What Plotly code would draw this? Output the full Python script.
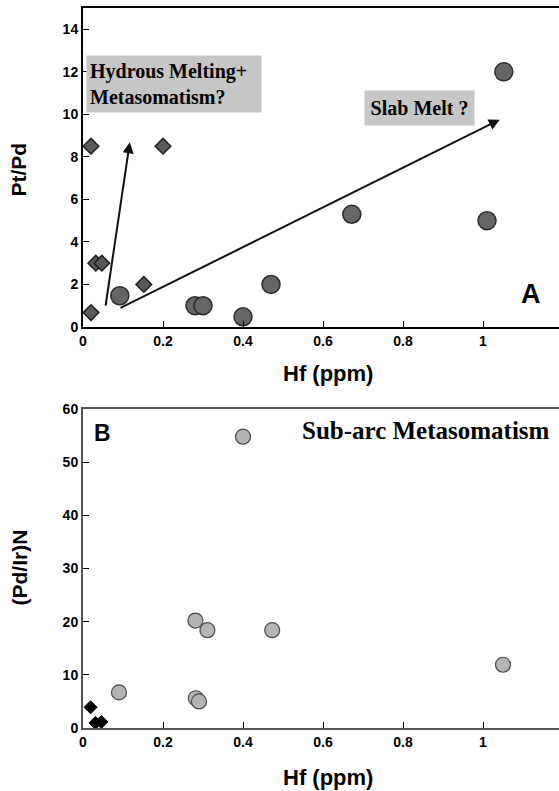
import plotly.graph_objects as go
from plotly.subplots import make_subplots

# ---- Data ----
# Panel A: Pt/Pd vs Hf
a_dia_hf = [0.02, 0.20, 0.02, 0.032, 0.047, 0.152]
a_dia_ptpd = [8.5, 8.5, 0.68, 3.0, 3.0, 2.0]
a_cir_hf = [0.092, 0.28, 0.30, 0.40, 0.47, 0.672, 1.01, 1.052]
a_cir_ptpd = [1.47, 1.0, 1.0, 0.48, 2.0, 5.3, 5.0, 12.0]

# Panel B: (Pd/Ir)N vs Hf
b_cir_hf = [0.40, 0.281, 0.311, 0.473, 0.09, 0.282, 0.29, 1.05]
b_cir_pdir = [54.8, 20.2, 18.4, 18.4, 6.7, 5.6, 5.0, 11.9]
b_dia_hf = [0.019, 0.031, 0.046]
b_dia_pdir = [3.9, 0.95, 1.15]

x_ticks = [0, 0.2, 0.4, 0.6, 0.8, 1]
x_tick_labels = ["0", "0.2", "0.4", "0.6", "0.8", "1"]
ya_ticks = [0, 2, 4, 6, 8, 10, 12, 14]
yb_ticks = [0, 10, 20, 30, 40, 50, 60]

W, H = 559, 791
L, R, T, B = 83, 0, 8, 63
plot_w = W - L - R
plot_h = H - T - B


def px_x(px):
    return (px - L) / plot_w


def px_y(py):
    return (H - B - py) / plot_h


fig = make_subplots(rows=2, cols=1, vertical_spacing=0.114)

fig.add_trace(go.Scatter(x=a_dia_hf, y=a_dia_ptpd, mode="markers",
                         marker=dict(symbol="diamond", size=12, color="#5a5a5a",
                                     line=dict(color="#1e1e1e", width=1.5)),
                         showlegend=False, cliponaxis=False), row=1, col=1)
fig.add_trace(go.Scatter(x=a_cir_hf, y=a_cir_ptpd, mode="markers",
                         marker=dict(symbol="circle", size=18, color="#666666",
                                     line=dict(color="#2a2a2a", width=1.5)),
                         showlegend=False, cliponaxis=False), row=1, col=1)
fig.add_trace(go.Scatter(x=b_cir_hf, y=b_cir_pdir, mode="markers",
                         marker=dict(symbol="circle", size=15, color="#b4b4b4",
                                     line=dict(color="#4a4a4a", width=1.2)),
                         showlegend=False, cliponaxis=False), row=2, col=1)
fig.add_trace(go.Scatter(x=b_dia_hf, y=b_dia_pdir, mode="markers",
                         marker=dict(symbol="diamond", size=10, color="#000000",
                                     line=dict(color="#000000", width=1)),
                         showlegend=False, cliponaxis=False), row=2, col=1)

tickfont = dict(family="Liberation Sans, Arial", size=14, color="#000", weight="bold")
titlefont = dict(family="Liberation Sans, Arial", size=22, color="#000", weight="bold")

common_x = dict(range=[0, 1.19], tickmode="array", tickvals=x_ticks, ticktext=x_tick_labels,
                ticks="inside", ticklen=6, tickwidth=1, tickcolor="#000",
                showgrid=False, zeroline=False, showline=True, linecolor="#000",
                linewidth=2, mirror=True, tickfont=tickfont, automargin=False)
fig.update_xaxes(**common_x, row=1, col=1)
fig.update_xaxes(**common_x, row=2, col=1)

common_y = dict(ticks="inside", ticklen=6, tickwidth=1, tickcolor="#000",
                showgrid=False, zeroline=False, showline=True,
                linewidth=2, tickfont=tickfont, automargin=False, tickmode="array")
fig.update_yaxes(range=[0, 15], tickvals=ya_ticks, linecolor="#000", **common_y, row=1, col=1)
fig.update_yaxes(range=[0, 60], tickvals=yb_ticks, linecolor="#555", **common_y, row=2, col=1)

fig.update_layout(yaxis=dict(domain=[px_y(327), 1.0]),
                  yaxis2=dict(domain=[0.0, px_y(409)]))
fig.update_xaxes(linecolor="#555", row=2, col=1)

# Axis titles
for txt, yy in [("Hf (ppm)", 373), ("Hf (ppm)", 777)]:
    fig.add_annotation(x=px_x(327.5), y=px_y(yy), xref="paper", yref="paper", text=txt,
                       showarrow=False, font=titlefont, xanchor="center", yanchor="middle")
for txt, yy in [("Pt/Pd", 170), ("(Pd/Ir)N", 568)]:
    fig.add_annotation(x=px_x(18.5), y=px_y(yy), xref="paper", yref="paper", text=txt,
                       showarrow=False, font=dict(titlefont, size=21), textangle=-90,
                       xanchor="center", yanchor="middle")

serif = dict(family="Liberation Serif, Times New Roman", size=20, color="#000", weight="bold")

# Arrows (panel A)
arrows = [((0.056, 0.94), (0.117, 8.69)), ((0.09, 0.86), (1.042, 9.75))]
for (x0, y0), (x1, y1) in arrows:
    fig.add_annotation(x=x1, y=y1, ax=x0, ay=y0, xref="x", yref="y", axref="x", ayref="y",
                       showarrow=True, arrowhead=2, arrowsize=1.1, arrowwidth=2,
                       arrowcolor="#111", text="")

fig.add_annotation(x=0.007, y=12.8, xref="x", yref="y", xanchor="left", yanchor="top",
                   text="Hydrous Melting+<br>Metasomatism?", showarrow=False, align="left",
                   font=serif, bgcolor="#c6c6c6", width=168, height=50, borderpad=3)
fig.add_annotation(x=0.84, y=10.31, xref="x", yref="y", xanchor="center", yanchor="middle",
                   text="Slab Melt ?", showarrow=False, font=serif, bgcolor="#c6c6c6",
                   width=103, height=28, borderpad=3)
fig.add_annotation(x=1.12, y=1.55, xref="x", yref="y", text="A", showarrow=False,
                   font=dict(family="Liberation Sans, Arial", size=27, color="#000", weight="bold"))
fig.add_annotation(x=0.049, y=55.5, xref="x2", yref="y2", text="B", showarrow=False,
                   font=dict(family="Liberation Sans, Arial", size=23, color="#000", weight="bold"))
fig.add_annotation(x=0.858, y=56.0, xref="x2", yref="y2", text="Sub-arc Metasomatism",
                   showarrow=False, font=dict(family="Liberation Serif, Times New Roman",
                                              size=25, color="#000", weight="bold"))

fig.update_layout(width=W, height=H, margin=dict(l=L, r=R, t=T, b=B),
                  plot_bgcolor="white", paper_bgcolor="white")

fig.write_html("out.html", config={"displayModeBar": False},
               post_script="document.body.style.margin='0';document.body.style.overflow='hidden';")
